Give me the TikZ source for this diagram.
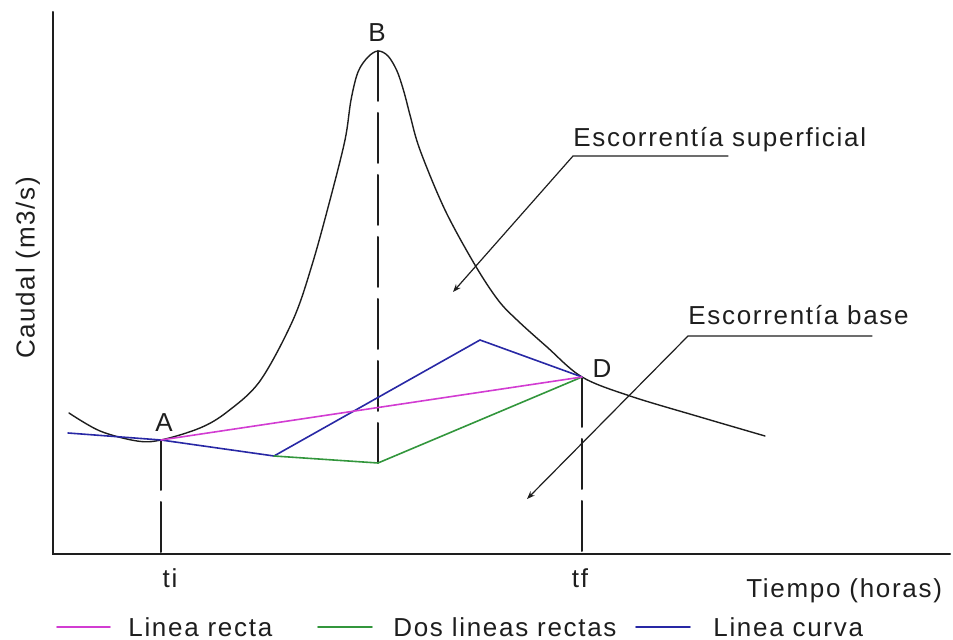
\documentclass[tikz,border=0pt]{standalone}
\usepackage{fontspec}
\newfontfamily\plotfont{Liberation Sans}[LetterSpace=6.5]
\usetikzlibrary{arrows.meta}
\definecolor{recta}{RGB}{210,60,210}
\definecolor{dosrectas}{RGB}{50,150,60}
\definecolor{curva}{RGB}{40,40,165}
\definecolor{ink}{RGB}{30,30,30}
\tikzset{
  guide/.style={line width=1pt, ink, dash pattern=on 25pt off 6pt},
  leader/.style={line width=0.6pt, ink, -{Stealth[length=4pt,width=3pt]}},
  lbl/.style={inner sep=0pt, text=ink, font=\plotfont\fontsize{13}{15}\selectfont},
  sep/.style={line width=0.8pt},
}

\begin{document}
\begin{tikzpicture}[x=0.5pt,y=-0.5pt]
    \useasboundingbox (0,0) rectangle (953,640);
    \begin{scope}[line cap=round]
        % Axes:
        \coordinate (top) at (53,12);
        \coordinate (O) at (53,554);
        \coordinate (right) at (950,554);
        \draw [line width=1pt, ink] (top) -- (O) -- (right);
        \node[lbl, rotate=90] (caudal) at (28,268) {Caudal (m3/s)};
        \node[lbl, anchor=base west] (tiempo) at (746,598) {Tiempo (horas)};

        % key points
        \coordinate (A) at (161,440);
        \coordinate (B) at (378,51);
        \coordinate (D) at (582,377);
        \coordinate (ti) at (161,554);
        \coordinate (tf) at (582,554);
        \coordinate (start) at (68,433);
        \coordinate (kink) at (274,456);
        \coordinate (dip) at (378,463);
        \coordinate (crest) at (480,340);

        % hydrograph
        \draw [line width=0.7pt, ink] plot[smooth, tension=0.55] coordinates {
            (69,413) (100,431) (137,441) (161,440) (200,428) (227,412)
            (260,381) (293,320) (312,265) (330,200) (345,140) (351,100)
            (358,72) (368,57) (378,51) (388,56) (397,71) (404,92) (410,115)
            (420,150) (445,210) (475,265) (498,300) (517,320) (547,347)
            (582,377) (630,396) (700,417) (765,436)};

        % dashed guides
        \draw [guide] (B) -- (dip);
        \draw [guide] (A) -- (ti);
        \draw [guide] (D) -- (tf);

        % separation lines
        \draw [sep, curva] (start) -- (A) -- (kink) -- (crest) -- (D);
        \draw [sep, dosrectas] (kink) -- (dip) -- (D);
        \draw [sep, recta] (A) -- (D);

        % point labels
        \node[lbl] (labA) at (164,423) {A};
        \node[lbl] (labB) at (377,33) {B};
        \node[lbl] (labD) at (602,369) {D};
        \node[lbl, anchor=base] (labti) at (170,588) {ti};
        \node[lbl, anchor=base] (labtf) at (580,588) {tf};

        % leaders
        \node[lbl, anchor=base west] (sup) at (573,147) {Escorrentía superficial};
        \coordinate (supL) at (573,156);
        \coordinate (supR) at (728,156);
        \coordinate (supTip) at (453,292);
        \draw [leader] (supR) -- (supL) -- (supTip);

        \node[lbl, anchor=base west] (base) at (688,325) {Escorrentía base};
        \coordinate (baseL) at (688,336);
        \coordinate (baseR) at (872,336);
        \coordinate (baseTip) at (527,499);
        \draw [leader] (baseR) -- (baseL) -- (baseTip);

        % legend
        \coordinate (k1a) at (57,627);  \coordinate (k1b) at (110,627);
        \coordinate (k2a) at (318,627); \coordinate (k2b) at (372,627);
        \coordinate (k3a) at (636,627); \coordinate (k3b) at (690,627);
        \draw [sep, recta] (k1a) -- (k1b);
        \draw [sep, dosrectas] (k2a) -- (k2b);
        \draw [sep, curva] (k3a) -- (k3b);
        \node[lbl, anchor=base west] (key1) at (128,637) {Linea recta};
        \node[lbl, anchor=base west] (key2) at (393,637) {Dos lineas rectas};
        \node[lbl, anchor=base west] (key3) at (713,637) {Linea curva};
    \end{scope}
\end{tikzpicture}
\end{document}
